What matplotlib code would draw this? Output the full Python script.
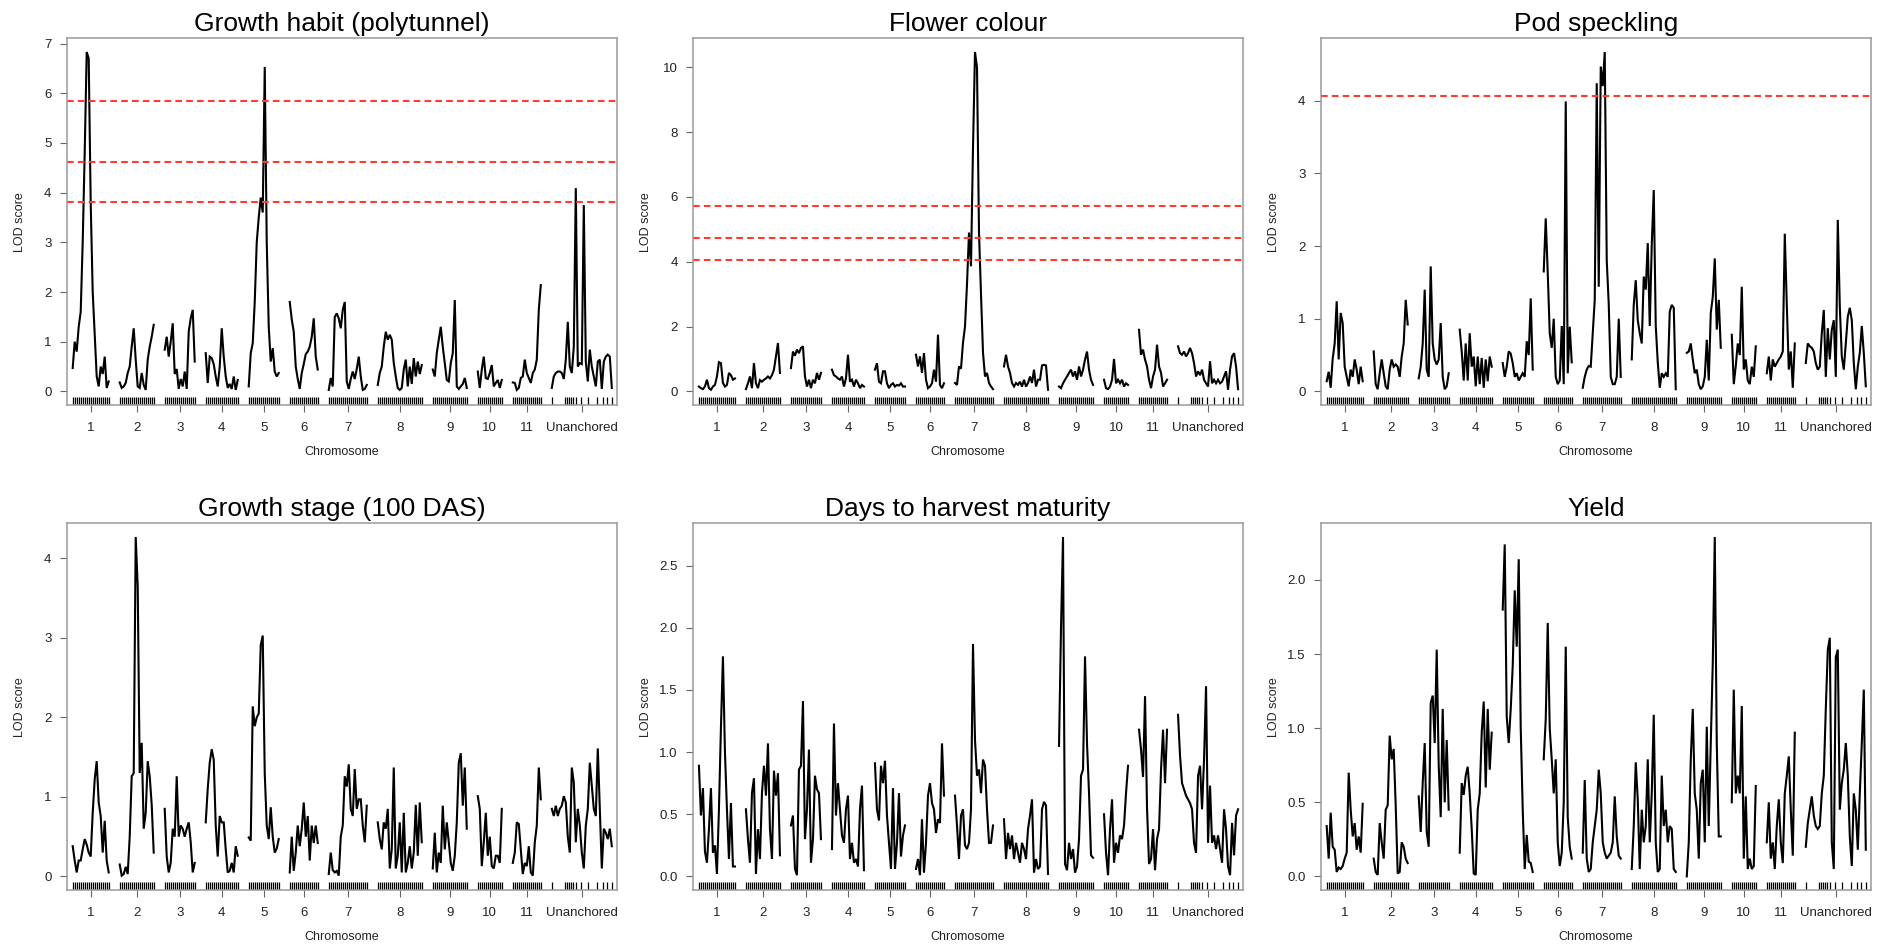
import numpy as np
import matplotlib
matplotlib.use("Agg")
import matplotlib.pyplot as plt

plt.rcParams['font.family'] = ['Liberation Sans', 'DejaVu Sans']

# genetic map: positions (cM) of markers / pseudomarkers on each chromosome
chrom_names = ['1', '2', '3', '4', '5', '6', '7', '8', '9', '10', '11', 'Unanchored']
chrom_pos = [
    [0, 5, 10, 15, 20, 25, 30, 35, 40, 45, 50, 55, 60, 65, 70, 75, 80, 85, 90],
    [0, 5, 10, 15, 20, 25, 30, 35, 40, 45, 50, 55, 60, 65, 70, 75, 80, 85],
    [0, 5, 10, 15, 20, 25, 30, 35, 40, 45, 50, 55, 60, 65, 70, 75],
    [0, 5, 10, 15, 20, 25, 30, 35, 40, 45, 50, 55, 60, 65, 70, 75, 80],
    [0, 5, 10, 15, 20, 25, 30, 35, 40, 45, 50, 55, 60, 65, 70, 75],
    [0, 5, 10, 15, 20, 25, 30, 35, 40, 45, 50, 55, 60, 65, 70],
    [0, 5, 10, 15, 20, 25, 30, 35, 40, 45, 50, 55, 60, 65, 70, 75, 80, 85, 90, 95],
    [0, 5, 10, 15, 20, 25, 30, 35, 40, 45, 50, 55, 60, 65, 70, 75, 80, 85, 90, 95, 100, 105, 110],
    [0, 5, 10, 15, 20, 25, 30, 35, 40, 45, 50, 55, 60, 65, 70, 75, 80, 85],
    [0, 5, 10, 15, 20, 25, 30, 35, 40, 45, 50, 55, 60],
    [0, 5, 10, 15, 20, 25, 30, 35, 40, 45, 50, 55, 60, 65, 70],
    [0, 5, 10, 15, 20, 25, 30, 35, 40, 45, 50, 55, 60, 65, 70, 75, 80, 85, 90, 95,
     100, 105, 110, 115, 120, 125, 130, 135, 140, 145, 150],
]
# the unanchored group only has a few real markers
unanchored_markers = [0, 33, 38, 43, 48, 53, 60, 73, 90, 113, 128, 138, 150]

# LOD scores, one list per chromosome
growth_habit = [
    [0.47, 1.0, 0.8, 1.3, 1.6, 3.0, 4.8, 6.83, 6.7, 3.8, 2.0, 1.15, 0.3, 0.1, 0.5, 0.35, 0.7, 0.07, 0.2],
    [0.18, 0.07, 0.1, 0.17, 0.37, 0.5, 0.9, 1.27, 0.64, 0.1, 0.07, 0.37, 0.13, 0.03, 0.64, 0.9, 1.1, 1.34],
    [0.84, 1.1, 0.7, 1.0, 1.37, 0.35, 0.45, 0.05, 0.25, 0.1, 0.4, 0.05, 1.2, 1.47, 1.64, 0.6],
    [0.77, 0.17, 0.7, 0.67, 0.55, 0.3, 0.1, 0.5, 1.27, 0.7, 0.3, 0.07, 0.15, 0.05, 0.3, 0.03, 0.23],
    [0.1, 0.77, 0.97, 1.8, 3.0, 3.5, 3.9, 3.6, 6.53, 3.0, 1.3, 0.6, 0.87, 0.4, 0.3, 0.37],
    [1.8, 1.45, 1.2, 0.5, 0.25, 0.05, 0.37, 0.55, 0.75, 0.8, 0.9, 1.1, 1.47, 0.7, 0.44],
    [0.03, 0.27, 0.1, 1.5, 1.57, 1.47, 1.27, 1.64, 1.8, 0.2, 0.05, 0.25, 0.4, 0.25, 0.45, 0.7, 0.3, 0.03, 0.05, 0.13],
    [0.13, 0.37, 0.5, 0.9, 1.2, 1.04, 1.14, 1.04, 0.57, 0.3, 0.07, 0.03, 0.07, 0.44, 0.64, 0.1, 0.5, 0.15,
     0.67, 0.3, 0.6, 0.35, 0.53],
    [0.44, 0.3, 0.77, 1.04, 1.3, 0.9, 0.57, 0.23, 0.2, 0.57, 0.77, 1.84, 0.1, 0.05, 0.1, 0.15, 0.27, 0.07],
    [0.4, 0.07, 0.44, 0.7, 0.27, 0.25, 0.37, 0.53, 0.1, 0.17, 0.23, 0.07, 0.23],
    [0.18, 0.17, 0.03, 0.07, 0.27, 0.3, 0.64, 0.37, 0.27, 0.17, 0.37, 0.44, 0.64, 1.64, 2.14],
    [0.07, 0.3, 0.37, 0.4, 0.4, 0.37, 0.25, 0.64, 1.4, 0.5, 0.37, 0.9, 4.09, 0.5, 0.57, 0.55, 3.75, 0.6,
     0.2, 0.84, 0.5, 0.3, 0.1, 0.6, 0.64, 0.05, 0.6, 0.7, 0.74, 0.7, 0.07],
]

flower_colour = [
    [0.15, 0.1, 0.07, 0.15, 0.36, 0.1, 0.05, 0.15, 0.2, 0.46, 0.9, 0.87, 0.26, 0.15, 0.2, 0.57, 0.5, 0.36, 0.4],
    [0.07, 0.25, 0.46, 0.1, 0.87, 0.25, 0.1, 0.35, 0.3, 0.36, 0.4, 0.46, 0.4, 0.5, 0.67, 1.08, 1.49, 0.57],
    [0.72, 1.23, 1.1, 1.29, 1.18, 1.34, 1.39, 0.46, 0.15, 0.36, 0.1, 0.36, 0.25, 0.57, 0.36, 0.57],
    [0.67, 0.5, 0.46, 0.4, 0.36, 0.46, 0.15, 0.4, 1.13, 0.3, 0.36, 0.15, 0.36, 0.25, 0.1, 0.2, 0.15],
    [0.67, 0.87, 0.3, 0.25, 0.62, 0.62, 0.25, 0.1, 0.2, 0.25, 0.15, 0.2, 0.18, 0.25, 0.15, 0.15],
    [1.13, 0.77, 1.08, 0.57, 1.18, 0.36, 0.1, 0.15, 0.25, 0.67, 0.3, 1.75, 0.2, 0.1, 0.25],
    [0.26, 0.2, 0.77, 0.7, 1.5, 2.0, 3.3, 4.9, 3.86, 7.5, 10.47, 10.0, 4.9, 3.0, 1.2, 0.46, 0.57, 0.26, 0.15, 0.07],
    [0.77, 1.13, 0.77, 0.57, 0.26, 0.15, 0.26, 0.2, 0.3, 0.15, 0.36, 0.15, 0.26, 0.46, 0.26, 0.67, 0.15, 0.36,
     0.36, 0.8, 0.82, 0.8, 0.05],
    [0.15, 0.1, 0.25, 0.36, 0.46, 0.57, 0.67, 0.46, 0.62, 0.36, 0.77, 0.46, 0.67, 0.98, 1.23, 0.67, 0.36, 0.2],
    [0.36, 0.1, 0.07, 0.15, 0.36, 1.0, 0.25, 0.36, 0.25, 0.36, 0.15, 0.25, 0.2],
    [1.9, 1.13, 1.29, 0.98, 0.77, 0.36, 0.1, 0.46, 0.67, 1.44, 0.77, 0.57, 0.15, 0.25, 0.36],
    [1.39, 1.18, 1.13, 1.23, 1.08, 1.18, 1.34, 1.18, 0.87, 0.46, 0.62, 0.5, 0.67, 0.36, 0.25, 0.15, 0.93,
     0.25, 0.36, 0.25, 0.36, 0.25, 0.3, 0.46, 0.62, 0.05, 0.67, 1.08, 1.18, 0.77, 0.07],
]

pod_speckling = [
    [0.14, 0.27, 0.05, 0.45, 0.66, 1.24, 0.44, 1.08, 0.94, 0.34, 0.2, 0.07, 0.3, 0.2, 0.44, 0.3, 0.1, 0.34, 0.14],
    [0.55, 0.1, 0.03, 0.25, 0.44, 0.25, 0.07, 0.03, 0.3, 0.44, 0.34, 0.37, 0.34, 0.2, 0.48, 0.66, 1.26, 0.92],
    [0.18, 0.34, 0.66, 1.4, 0.3, 0.2, 1.72, 0.66, 0.44, 0.37, 0.44, 0.94, 0.2, 0.03, 0.07, 0.25],
    [0.85, 0.55, 0.15, 0.66, 0.15, 0.8, 0.34, 0.48, 0.07, 0.48, 0.1, 0.46, 0.05, 0.44, 0.14, 0.48, 0.34],
    [0.39, 0.2, 0.34, 0.55, 0.52, 0.39, 0.2, 0.25, 0.15, 0.2, 0.25, 0.2, 0.69, 0.5, 1.28, 0.3],
    [1.65, 2.38, 1.63, 0.8, 0.6, 1.0, 0.2, 0.1, 0.15, 0.9, 0.1, 3.99, 0.25, 0.89, 0.4],
    [0.05, 0.2, 0.3, 0.35, 0.34, 0.8, 1.26, 4.24, 1.44, 4.47, 4.2, 4.67, 1.8, 1.2, 0.2, 0.1, 0.1, 0.2, 1.0, 0.2],
    [0.44, 1.19, 1.53, 0.98, 0.8, 0.66, 1.58, 1.4, 2.04, 0.9, 2.02, 2.77, 0.9, 0.4, 0.05, 0.25, 0.2, 0.25,
     0.2, 1.1, 1.19, 1.15, 0.03],
    [0.53, 0.55, 0.66, 0.44, 0.25, 0.3, 0.1, 0.03, 0.07, 0.2, 0.71, 0.15, 1.08, 1.3, 1.83, 0.85, 1.26, 0.6],
    [0.78, 0.1, 0.35, 0.66, 0.5, 1.44, 0.3, 0.44, 0.15, 0.1, 0.34, 0.2, 0.62],
    [0.25, 0.48, 0.15, 0.44, 0.34, 0.39, 0.44, 0.48, 0.55, 2.17, 1.2, 0.3, 0.55, 0.05, 0.66],
    [0.39, 0.66, 0.62, 0.6, 0.55, 0.39, 0.3, 0.34, 0.8, 1.12, 0.2, 0.87, 0.44, 0.85, 0.98, 0.2, 2.36, 1.17,
     0.48, 0.3, 0.66, 1.03, 1.15, 0.98, 0.39, 0.03, 0.34, 0.53, 0.9, 0.53, 0.07],
]

growth_stage = [
    [0.38, 0.2, 0.05, 0.2, 0.2, 0.34, 0.47, 0.4, 0.3, 0.25, 0.8, 1.22, 1.45, 0.93, 0.76, 0.3, 0.7, 0.2, 0.05],
    [0.15, 0.01, 0.03, 0.12, 0.03, 0.5, 1.26, 1.3, 4.27, 3.65, 1.3, 1.68, 0.6, 0.8, 1.45, 1.26, 0.9, 0.3],
    [0.85, 0.25, 0.05, 0.17, 0.6, 0.5, 1.26, 0.5, 0.64, 0.6, 0.5, 0.6, 0.68, 0.43, 0.05, 0.17],
    [0.68, 1.1, 1.43, 1.6, 1.47, 0.64, 0.25, 0.76, 0.68, 0.68, 0.34, 0.05, 0.07, 0.17, 0.05, 0.38, 0.26],
    [0.49, 0.45, 2.14, 1.89, 2.0, 2.05, 2.91, 3.03, 1.3, 0.64, 0.47, 0.87, 0.5, 0.3, 0.35, 0.47],
    [0.05, 0.5, 0.07, 0.3, 0.64, 0.38, 0.6, 0.93, 0.5, 0.76, 0.2, 0.64, 0.42, 0.64, 0.42],
    [0.03, 0.3, 0.08, 0.05, 0.07, 0.01, 0.5, 0.64, 1.26, 1.13, 1.41, 0.85, 0.76, 1.35, 0.85, 0.97, 0.97, 0.64, 0.43, 0.89],
    [0.68, 0.47, 0.34, 0.68, 0.6, 0.85, 0.1, 0.34, 1.37, 0.1, 0.26, 0.68, 0.05, 0.8, 0.05, 0.17, 0.38, 0.1,
     0.3, 0.9, 0.26, 0.93, 0.43],
    [0.1, 0.55, 0.05, 0.3, 0.17, 0.89, 0.34, 0.68, 0.43, 0.17, 0.07, 0.26, 0.68, 1.43, 1.55, 0.89, 1.37, 0.6],
    [1.01, 0.85, 0.13, 0.43, 0.8, 0.26, 0.5, 0.13, 0.1, 0.26, 0.26, 0.17, 0.85],
    [0.17, 0.3, 0.68, 0.66, 0.34, 0.03, 0.17, 0.13, 0.38, 0.05, 0.01, 0.43, 0.64, 1.37, 0.97],
    [0.85, 0.76, 0.89, 0.76, 0.85, 0.89, 1.01, 0.93, 0.5, 0.3, 1.37, 1.18, 0.43, 0.85, 0.64, 0.3, 0.1, 0.64,
     0.85, 1.43, 1.14, 0.85, 0.76, 1.61, 0.85, 0.1, 0.6, 0.55, 0.47, 0.6, 0.38],
]

days_to_maturity = [
    [0.89, 0.49, 0.71, 0.2, 0.11, 0.38, 0.71, 0.19, 0.25, 0.02, 0.54, 1.2, 1.77, 1.0, 0.54, 0.14, 0.59, 0.08, 0.08],
    [0.54, 0.3, 0.11, 0.67, 0.79, 0.02, 0.38, 0.14, 0.67, 0.89, 0.65, 1.07, 0.38, 0.14, 0.85, 0.65, 0.83, 0.17],
    [0.41, 0.49, 0.06, 0.01, 0.86, 0.89, 1.41, 0.3, 0.54, 1.02, 0.11, 0.3, 0.81, 0.7, 0.67, 0.3],
    [0.22, 1.23, 0.49, 0.75, 0.54, 0.33, 0.27, 0.54, 0.65, 0.14, 0.27, 0.11, 0.14, 0.08, 0.54, 0.73, 0.05],
    [0.91, 0.54, 0.45, 0.89, 0.75, 0.93, 0.49, 0.27, 0.06, 0.71, 0.06, 0.27, 0.67, 0.16, 0.33, 0.41],
    [0.06, 0.14, 0.01, 0.46, 0.03, 0.27, 0.65, 0.75, 0.59, 0.54, 0.35, 0.46, 0.43, 1.07, 0.65],
    [0.65, 0.41, 0.14, 0.49, 0.54, 0.25, 0.22, 0.27, 0.54, 1.87, 1.1, 0.81, 0.86, 0.67, 0.94, 0.89, 0.54, 0.27, 0.27, 0.41],
    [0.46, 0.14, 0.35, 0.22, 0.33, 0.14, 0.27, 0.19, 0.11, 0.27, 0.22, 0.14, 0.38, 0.49, 0.62, 0.03, 0.14, 0.06,
     0.08, 0.54, 0.6, 0.57, 0.02],
    [1.05, 2.0, 2.73, 0.1, 0.05, 0.27, 0.14, 0.22, 0.03, 0.08, 0.3, 0.81, 0.86, 1.77, 1.07, 0.67, 0.17, 0.15],
    [0.5, 0.19, 0.01, 0.38, 0.62, 0.11, 0.27, 0.19, 0.33, 0.3, 0.41, 0.67, 0.89],
    [1.18, 1.02, 0.8, 1.45, 0.55, 0.1, 0.14, 0.38, 0.05, 0.3, 0.38, 0.86, 1.18, 0.75, 1.18],
    [1.3, 0.97, 0.75, 0.7, 0.65, 0.62, 0.59, 0.54, 0.27, 0.19, 0.81, 0.89, 0.54, 0.94, 1.53, 0.27, 0.73, 0.27,
     0.33, 0.22, 0.33, 0.22, 0.11, 0.54, 0.38, 0.08, 0.01, 0.43, 0.17, 0.49, 0.54],
]

yield_lod = [
    [0.34, 0.12, 0.43, 0.2, 0.18, 0.03, 0.06, 0.05, 0.07, 0.12, 0.16, 0.7, 0.45, 0.27, 0.36, 0.18, 0.27, 0.16, 0.49],
    [0.12, 0.03, 0.01, 0.36, 0.23, 0.12, 0.45, 0.48, 0.95, 0.79, 0.86, 0.48, 0.02, 0.03, 0.23, 0.2, 0.12, 0.09],
    [0.54, 0.3, 0.63, 0.9, 0.3, 0.2, 1.17, 1.22, 0.9, 1.53, 0.75, 0.4, 1.13, 0.5, 0.92, 0.45],
    [0.16, 0.63, 0.55, 0.68, 0.74, 0.56, 0.32, 0.02, 0.01, 0.45, 0.56, 0.97, 1.18, 0.6, 1.13, 0.72, 0.97],
    [1.8, 2.24, 1.08, 0.9, 1.13, 1.42, 1.93, 1.55, 2.14, 1.0, 0.45, 0.05, 0.28, 0.1, 0.09, 0.03],
    [0.79, 1.06, 1.71, 1.0, 0.79, 0.56, 0.79, 0.23, 0.07, 0.16, 0.5, 1.55, 0.4, 0.2, 0.12],
    [0.16, 0.65, 0.12, 0.03, 0.05, 0.23, 0.34, 0.45, 0.72, 0.56, 0.23, 0.16, 0.12, 0.14, 0.16, 0.23, 0.54, 0.27, 0.14, 0.12],
    [0.05, 0.34, 0.77, 0.52, 0.05, 0.45, 0.23, 0.34, 0.79, 0.23, 0.56, 1.09, 0.23, 0.03, 0.05, 0.68, 0.34, 0.45,
     0.23, 0.34, 0.32, 0.05, 0.03],
    [0.0, 0.23, 0.79, 1.13, 0.56, 0.45, 0.12, 0.63, 0.72, 0.23, 1.01, 0.34, 0.9, 1.44, 2.29, 0.9, 0.27, 0.27],
    [0.5, 1.26, 0.56, 0.68, 0.56, 1.15, 0.12, 0.54, 0.05, 0.12, 0.05, 0.07, 0.61],
    [0.23, 0.5, 0.12, 0.23, 0.05, 0.34, 0.52, 0.23, 0.09, 0.56, 0.68, 0.81, 0.45, 0.14, 0.97],
    [0.2, 0.36, 0.45, 0.54, 0.41, 0.34, 0.32, 0.34, 0.56, 0.68, 1.13, 1.53, 1.61, 0.23, 0.05, 1.48, 1.53, 0.45,
     0.63, 0.72, 0.9, 0.68, 0.27, 0.07, 0.56, 0.45, 0.18, 0.56, 0.9, 1.26, 0.18],
]

titles = ['Growth habit (polytunnel)', 'Flower colour', 'Pod speckling',
          'Growth stage (100 DAS)', 'Days to harvest maturity', 'Yield']
lod_sets = [growth_habit, flower_colour, pod_speckling, growth_stage, days_to_maturity, yield_lod]
thresholds = [[5.85, 4.62, 3.82], [5.73, 4.74, 4.06], [4.07], [], [], []]
yticks = [[0, 1, 2, 3, 4, 5, 6, 7], [0, 2, 4, 6, 8, 10], [0, 1, 2, 3, 4], [0, 1, 2, 3, 4],
          [0, 0.5, 1.0, 1.5, 2.0, 2.5], [0, 0.5, 1.0, 1.5, 2.0]]
yfmt = ['{:.0f}', '{:.0f}', '{:.0f}', '{:.0f}', '{:.1f}', '{:.1f}']

# chromosomes laid end to end with a gap between them
gap = 27.5
offsets = []
start = 0.0
for p in chrom_pos:
    offsets.append(start)
    start += p[-1] + gap
map_end = start - gap
centers = [o + p[-1] / 2 for o, p in zip(offsets, chrom_pos)]

fig = plt.figure(figsize=(18.84, 9.46), dpi=100)
lefts = [0.0354, 0.3678, 0.7010]
bottoms = [0.5719, 0.0592]
w, h = 0.2921, 0.3875

for i in range(6):
    lod = lod_sets[i]
    ax = fig.add_axes([lefts[i % 3], bottoms[i // 3], w, h])

    for k, (o, p, v) in enumerate(zip(offsets, chrom_pos, lod)):
        assert len(p) == len(v), (titles[i], k, len(p), len(v))
        ax.plot(np.array(p) + o, v, color='black', lw=1.5, solid_joinstyle='miter')
        rug = unanchored_markers if k == len(chrom_pos) - 1 else p
        ax.vlines(np.array(rug) + o, 0, 0.021, transform=ax.get_xaxis_transform(),
                  color='black', lw=0.9)

    for t in thresholds[i]:
        ax.axhline(t, color='#ff3b30', lw=1.5, ls=(0, (3.2, 2)))

    top = max(max(v) for v in lod)
    ax.set_ylim(-0.04 * top, 1.04 * top)
    ax.set_xlim(-15, map_end + 13)

    ax.set_xticks(centers)
    ax.set_xticklabels(chrom_names)
    ax.set_yticks(yticks[i])
    ax.set_yticklabels([yfmt[i].format(y) for y in yticks[i]])
    ax.tick_params(axis='both', length=5, width=0.8, color='#666666',
                   labelsize=9.5, labelcolor='#222222')
    ax.tick_params(axis='x', pad=7)
    ax.tick_params(axis='y', pad=6)

    for s in ax.spines.values():
        s.set_color('#9a9a9a')
        s.set_linewidth(1.1)

    ax.set_title(titles[i], fontsize=19, pad=5)
    ax.set_xlabel('Chromosome', fontsize=9, color='#222222')
    ax.set_ylabel('LOD score', fontsize=9, color='#222222')
    ax.xaxis.set_label_coords(0.5, -0.112)
    ax.yaxis.set_label_coords(-0.074, 0.5)

fig.savefig('out.png', dpi=100)
